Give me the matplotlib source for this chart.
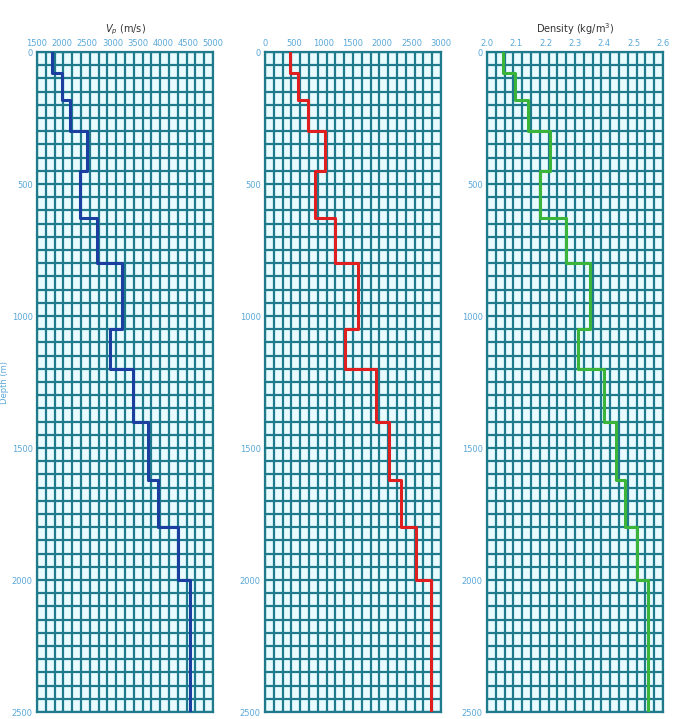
import numpy as np
import matplotlib
matplotlib.use("Agg")
import matplotlib.pyplot as plt

# layer tops (m) and properties
tops = [0, 80, 180, 300, 450, 630, 800, 1050, 1200, 1400, 1620, 1800, 2000]
vp = [1800, 2000, 2150, 2500, 2350, 2700, 3200, 2950, 3400, 3700, 3900, 4300, 4540]
vs = [430, 570, 740, 1030, 860, 1200, 1580, 1370, 1890, 2110, 2310, 2570, 2830]
rho = [2.055, 2.095, 2.14, 2.215, 2.18, 2.27, 2.35, 2.31, 2.40, 2.44, 2.47, 2.51, 2.55]
max_depth = 2500

panels = [
    (vp, (1500, 5000), np.arange(1500, 5001, 500), "$V_p$ (m/s)", "#1a3fa0"),
    (vs, (0, 3000), np.arange(0, 3001, 500), "", "#e02020"),
    (rho, (2.0, 2.6), np.round(np.arange(2.0, 2.61, 0.1), 1), "Density (kg/m$^3$)", "#3ab53a"),
]
grid_c = "#1f7a8c"
tick_c = "#5aa8d8"

fig = plt.figure(figsize=(6.79, 7.19), dpi=100)
lefts = [37, 265, 487]
for (vals, xlim, xticks, title, color), left in zip(panels, lefts):
    ax = fig.add_axes([left / 679, 7 / 719, 176 / 679, 660 / 719])
    ax.set_facecolor("#e8fbff")
    ax.set_xlim(*xlim)
    ax.set_ylim(max_depth, 0)
    for x in np.linspace(xlim[0], xlim[1], 21):
        ax.axvline(x, color=grid_c, lw=1.6, zorder=1)
    for y in np.arange(0, max_depth + 1, 50):
        ax.axhline(y, color=grid_c, lw=1.6, zorder=1)
    ax.step(vals + [vals[-1]], tops + [max_depth], where="pre", color=color, lw=2.2, zorder=3)
    ax.xaxis.tick_top()
    ax.set_xticks(xticks)
    ax.set_yticks(np.arange(0, max_depth + 1, 500))
    ax.tick_params(colors=tick_c, labelsize=6, length=0, pad=3)
    for s in ax.spines.values():
        s.set_color(grid_c)
        s.set_linewidth(1.6)
    if title:
        ax.set_title(title, fontsize=7, pad=14, color="#333333")
    if left == 37:
        ax.set_ylabel("Depth (m)", color=tick_c, fontsize=6, labelpad=2)

fig.savefig("out.png", dpi=100)
